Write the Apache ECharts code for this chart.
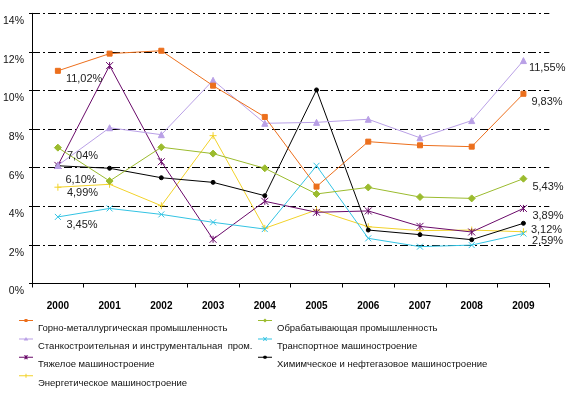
<!DOCTYPE html>
<html>
<head>
<meta charset="utf-8">
<script src="https://cdn.jsdelivr.net/npm/echarts@6/dist/echarts.min.js"></script>
<style>
html,body{margin:0;padding:0;background:#fff;}
#chart{width:583px;height:394px;}
</style>
</head>
<body>
<div id="chart"></div>
<script>
var years = ['2000','2001','2002','2003','2004','2005','2006','2007','2008','2009'];
var yTicks = [0, 2, 4, 6, 8, 10, 12, 14];

var names = [
  'Горно-металлургическая промышленность',
  'Обрабатывающая промышленность',
  'Станкостроительная и инструментальная  пром.',
  'Транспортное машиностроение',
  'Тяжелое машиностроение',
  'Химимческое и нефтегазовое машиностроение',
  'Энергетическое машиностроение'
];

var gornoMet   = [11.02, 11.91, 12.06, 10.25, 8.63, 5.02, 7.35, 7.16, 7.09, 9.83];
var obrab      = [7.04, 5.31, 7.06, 6.73, 5.97, 4.64, 4.98, 4.48, 4.41, 5.43];
var stanko     = [6.12, 8.07, 7.71, 10.53, 8.30, 8.35, 8.51, 7.55, 8.44, 11.55];
var transport  = [3.45, 3.89, 3.58, 3.17, 2.82, 6.10, 2.34, 1.91, 1.99, 2.59];
var tyazh      = [6.12, 11.29, 6.31, 2.29, 4.26, 3.69, 3.76, 2.96, 2.67, 3.89];
var himNeft    = [6.10, 5.97, 5.48, 5.24, 4.55, 10.03, 2.77, 2.53, 2.27, 3.12];
var energ      = [4.99, 5.14, 4.03, 7.66, 2.86, 3.81, 2.94, 2.74, 2.77, 2.68];

var seriesValues = [gornoMet, obrab, stanko, transport, tyazh, himNeft, energ];
// which points carry a value label: [first, last]
var labelled = [
  [true, true],
  [true, true],
  [false, true],
  [true, true],
  [false, true],
  [true, true],
  [true, false]
];

var colors = ['#EC6F1C', '#9BBB2E', '#B9A0E6', '#33C3E3', '#6A0A6A', '#000000', '#F2D22A'];
var symbols = [
  'rect',
  'diamond',
  'triangle',
  'path://M0,0L10,10M10,0L0,10',
  'path://M0,0L10,10M10,0L0,10M5,0L5,10',
  'circle',
  'path://M0,5L10,5M5,0L5,10'
];
var symbolSizes = [5, 7, 6, 6, 7, 4, 7];
var labelOffsets = [
  [[0, 8], [0, 8]],
  [[0, 8], [0, 8]],
  [[0, 8], [-3, 7]],
  [[0, 8], [0, 7]],
  [[0, 8], [0, 8]],
  [[0, 14], [0, 7]],
  [[0, 6], [0, 8]]
];

// legend icons: a short line near the top of a 14x19 box with a small marker
var iconLine = 'M0,1.5L14,1.5L14,2.5L0,2.5Z';
var iconAnchor = 'M0,19L0.01,19L0,18.99Z M14,0L13.99,0L14,0.01Z';
var iconMarks = [
  'M5.5,0.5L8.5,0.5L8.5,3.5L5.5,3.5Z',
  'M7,0L9,2L7,4L5,2Z',
  'M7,0L9.3,3.7L4.7,3.7Z',
  'M4.8,0L5.8,0L9.2,4L8.2,4Z M8.2,0L9.2,0L5.8,4L4.8,4Z',
  'M4.8,0L5.8,0L9.2,4L8.2,4Z M8.2,0L9.2,0L5.8,4L4.8,4Z M6.5,0L7.5,0L7.5,4L6.5,4Z',
  'M6,0.5L8,0.5L9,1.5L9,2.5L8,3.5L6,3.5L5,2.5L5,1.5Z',
  'M6.5,0L7.5,0L7.5,4L6.5,4Z'
];

function fmt(v) { return v.toFixed(2).replace('.', ',') + '%'; }

var series = seriesValues.map(function (vals, si) {
  return {
    name: names[si],
    type: 'line',
    data: vals.map(function (v, i) {
      var item = { value: v };
      var idx = (i === 0) ? 0 : (i === vals.length - 1 ? 1 : -1);
      if (idx >= 0 && labelled[si][idx]) {
        item.label = {
          show: true,
          position: 'right',
          distance: 5,
          offset: labelOffsets[si][idx],
          formatter: function (p) { return fmt(p.value); },
          fontFamily: 'Liberation Sans, Arial, sans-serif',
          fontSize: 11,
          color: '#222'
        };
      }
      return item;
    }),
    symbol: symbols[si],
    symbolSize: symbolSizes[si],
    showAllSymbol: true,
    lineStyle: { width: 1, color: colors[si] },
    itemStyle: { color: colors[si], borderColor: colors[si], borderWidth: 1 },
    emphasis: { disabled: true },
    z: 10 - si
  };
});

function legendItems(idxs) {
  return idxs.map(function (i) {
    return { name: names[i], icon: 'path://' + iconLine + ' ' + iconMarks[i] + ' ' + iconAnchor };
  });
}

var legendBase = {
  orient: 'vertical',
  top: 318.5,
  padding: 0,
  itemWidth: 14,
  itemHeight: 19,
  itemGap: -0.6,
  symbolKeepAspect: false,
  itemStyle: { borderWidth: 0 },
  textStyle: {
    fontFamily: 'Liberation Sans, Arial, sans-serif',
    fontSize: 9.5,
    color: '#111'
  },
  selectedMode: false
};

var option = {
  animation: false,
  color: colors,
  grid: { left: 31.7, right: 33.7, top: 13.3, bottom: 110.5, containLabel: false },
  legend: [
    Object.assign({}, legendBase, { left: 19, data: legendItems([0, 2, 4, 6]) }),
    Object.assign({}, legendBase, { left: 258, data: legendItems([1, 3, 5]) })
  ],
  xAxis: {
    type: 'category',
    data: years,
    boundaryGap: true,
    axisLine: { show: true, lineStyle: { color: '#000', width: 1 } },
    axisTick: { show: true, length: 4, lineStyle: { color: '#000' } },
    axisLabel: {
      fontFamily: 'Liberation Sans, Arial, sans-serif',
      fontSize: 10,
      fontWeight: 'bold',
      color: '#000',
      margin: 18
    },
    splitLine: { show: false }
  },
  yAxis: {
    type: 'value',
    min: yTicks[0],
    max: yTicks[yTicks.length - 1],
    interval: 2,
    axisLine: { show: true, lineStyle: { color: '#000', width: 1 } },
    axisTick: { show: true, length: 3, lineStyle: { color: '#000' } },
    axisLabel: {
      formatter: function (v) { return v + '%'; },
      fontFamily: 'Liberation Sans, Arial, sans-serif',
      fontSize: 10.5,
      color: '#111',
      margin: 8,
      verticalAlign: 'top',
      lineHeight: 16
    },
    splitLine: {
      show: true,
      lineStyle: { color: '#000', width: 1, type: [8, 3, 2, 3] }
    }
  },
  series: series
};

var chart = echarts.init(document.getElementById('chart'), null, { renderer: 'canvas' });
chart.setOption(option);
</script>
</body>
</html>
